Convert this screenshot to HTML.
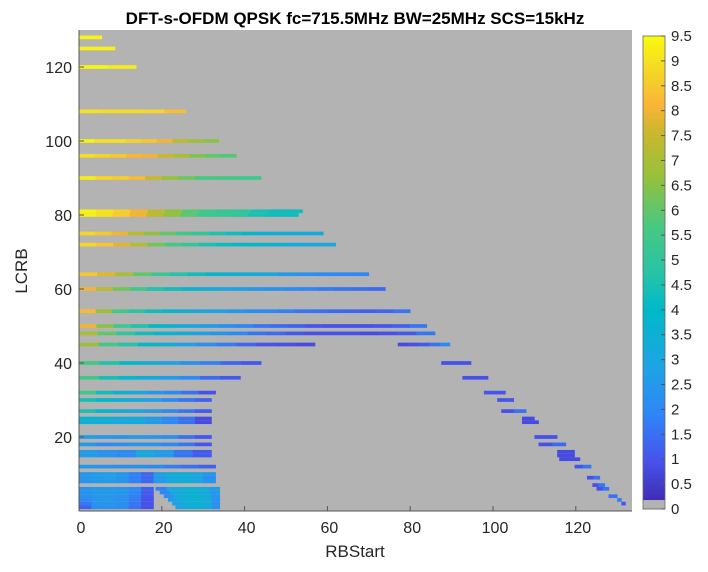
<!DOCTYPE html>
<html><head><meta charset="utf-8"><style>
body{margin:0;background:#fff;font-family:"Liberation Sans",sans-serif}
svg text{font-family:"Liberation Sans",sans-serif;fill:#262626}
</style></head><body>
<svg id="chart" width="708" height="567" xmlns="http://www.w3.org/2000/svg">
<text x="355" y="24" text-anchor="middle" font-size="17" font-weight="bold" style="fill:#000">DFT-s-OFDM QPSK fc=715.5MHz BW=25MHz SCS=15kHz</text>
<rect x="79" y="30" width="553" height="481" fill="#b3b3b3"/>
<g id="cells"></g>
<g id="axes"></g>
<text x="355" y="557" text-anchor="middle" font-size="17">RBStart</text>
<text transform="translate(27,271) rotate(-90)" text-anchor="middle" font-size="17">LCRB</text>
<g id="cbar"></g>
</svg>
<script>
const rowLCRB = [
128,125,120,108,100,96,90,81,80,75,
72,64,60,54,50,48,45,45,40,40,
36,36,32,32,30,30,27,27,25,24,
25,24,20,20,18,18,16,15,16,15,
14,12,12,10,9,8,9,7,6,6,
5,4,3,2,1,6,5,4,3,2,
1,4,3,2];
const rowStart = [
0,0,0,0,0,0,0,0,0,0,
0,0,0,0,0,0,0,77,0,87.5,
0,92.6,0,97.8,0,101,0,102,0,0,
107,107,0,110,0,111,0,0,115.5,115.5,
116,0,119.7,0,0,0,122.7,124,0,125,
0,0,0,0,0,18.5,19.5,20.5,21.5,22.5,
23.3,127.9,130,131];
const rowEnd = [
5.5,8.7,13.8,25.8,33.8,38,44,54,53,59,
62,70,74,80,84,86,57,89.6,44,94.7,
39,98.8,33,103,32,105,32,108,32,32,
110,111,32,115.5,32,117.6,32,32,119.7,119.7,
121,33,123.7,33,33,33,125.8,127,18,128,
18,18,18,18,18,34,34,34,34,34,
34,130,131,132];
const rowValues = [
[9.4],[9.3],[9.4,9.2],[9.0,8.9,8.9,8.8,8.3],
[9.3,9.0,9.0,8.7,8.5,8.0,7.3,6.8,6.5],
[8.9,8.7,8.5,8.1,8.0,7.5,7.0,6.4,6.0,5.8],
[9.2,8.8,8.6,8.2,7.5,6.7,6.2,5.7,5.6,5.5,5.4],
[9.3,9.0,8.6,8.0,7.3,6.6,5.9,5.4,5.2,5.0,4.5,4.3,4.3],
[9.3,9.0,8.6,8.0,7.3,6.6,5.9,5.4,5.2,5.0,4.5,4.3,4.3],
[8.8,8.5,8.0,7.3,6.6,6.0,5.4,5.1,4.6,4.3,4.0,3.6,3.4,3.3,3.2],
[8.8,8.4,7.8,7.2,6.2,5.6,5.1,4.5,4.2,4.0,3.8,3.5,3.3,3.2,3.0],
[8.5,7.8,7.0,6.0,5.3,4.7,4.3,3.9,3.6,3.3,3.0,2.6,2.3,2.1,2.0,1.9],
[8.0,7.3,6.2,5.4,4.6,4.3,3.8,3.4,3.0,2.8,2.5,2.3,2.1,1.9,1.7,1.6,1.5,1.4],
[8.2,6.8,5.6,4.8,4.3,3.8,3.3,2.9,2.7,2.4,2.2,2.0,1.8,1.6,1.5,1.4,1.3,1.2,1.3,1.6],
[8.0,6.5,5.4,4.6,4.0,3.5,3.0,2.6,2.2,1.9,1.6,1.4,1.2,1.0,0.9,0.9,0.9,1.0,1.2,1.6],
[7.0,6.0,5.0,4.3,3.8,3.3,2.8,2.4,2.0,1.6,1.4,1.1,0.9,0.9,0.9,0.8,0.9,1.1,1.6],
[6.8,5.5,4.7,4.0,3.3,2.7,2.2,1.7,1.3,1.0,0.9,0.8],
[0.8,0.9,1.1,1.5,1.9],
[5.6,4.6,4.0,3.4,2.8,2.3,1.8,1.3,1.0],
[0.9],
[5.5,4.4,3.8,3.2,2.6,2.0,1.4,1.1],
[0.9],
[5.4,4.3,3.6,3.1,2.5,2.0,1.5,0.9],
[1.0],
[4.4,4.0,3.5,3.1,2.7,2.1,1.6,1.2],
[1.0],
[4.5,3.8,3.3,3.0,2.6,2.0,1.6,1.1],
[0.9,1.5],
[3.6,3.4,3.1,3.2,2.6,2.0,1.5,0.8],
[3.6,3.4,3.1,3.2,2.6,2.0,1.5,0.8],
[0.8],
[0.8],
[2.7,2.5,2.3,2.6,2.4,2.1,1.5,1.0],
[0.9],
[2.6,2.0,2.2,2.4,2.3,2.0,1.6,1.0],
[0.9,1.4],
[2.6,2.3,2.0,3.0,2.6,1.6,1.1],
[2.6,2.3,2.0,3.0,2.6,1.6,1.1],
[0.8],
[0.8],
[0.8],
[2.5,2.3,2.2,2.2,2.0,1.7,1.5,1.2],
[1.0,1.6],
[2.4,2.6,2.7,2.4,1.8,1.3,2.6,3.2,3.4,3.0,2.4],
[2.4,2.6,2.7,2.4,1.8,1.3,2.6,3.2,3.4,3.0,2.2],
[2.3,2.5,2.6,2.4,1.8,1.3,2.6,3.2,3.4,3.0,2.3],
[0.9,1.5],
[0.9,1.6],
[2.3,2.5,2.5,2.4,2.0,1.2],
[0.9,1.6],
[2.3,2.5,2.5,2.4,1.9,1.1],
[2.2,2.5,2.5,2.3,1.8,1.0],
[2.0,2.4,2.4,2.2,1.7,0.9],
[1.6,2.3,2.4,2.2,1.6,0.9],
[1.2,2.2,2.3,2.1,1.5,0.9],
[1.8,3.0,3.4,3.5,3.3,2.6],
[1.9,3.1,3.4,3.5,3.3,2.5],
[2.2,3.2,3.5,3.6,3.3,2.4],
[2.6,3.3,3.5,3.6,3.2,2.3],
[2.8,3.3,3.5,3.5,3.1,2.2],
[2.8,3.3,3.4,3.5,3.1,2.2],
[1.5],
[1.7],
[1.0]
];
const xTicks = [0,20,40,60,80,100,120];
const yTicks = [20,40,60,80,100,120];
const cbTicks = ['0','0.5','1','1.5','2','2.5','3','3.5','4','4.5','5','5.5','6','6.5','7','7.5','8','8.5','9','9.5'];

const NS='http://www.w3.org/2000/svg';
const X = rb => 79 + rb*4.14;
const Y = L => 511 - L*3.7;
const CB = v => 509 - v*(473/9.5);
const stops=[[0,62,38,168],[0.1,71,82,236],[0.2,46,135,247],[0.3,30,164,228],[0.42,0,185,200],[0.5,40,196,165],[0.6,74,200,128],[0.7,150,193,60],[0.8,205,183,45],[0.85,250,180,55],[0.92,245,212,40],[1,249,251,14]];
function parula(v){let t=Math.max(0,Math.min(1,v/9.5));for(let i=1;i<stops.length;i++){if(t<=stops[i][0]){const a=stops[i-1],b=stops[i],f=(t-a[0])/(b[0]-a[0]);return 'rgb('+[1,2,3].map(k=>Math.round(a[k]+(b[k]-a[k])*f)).join(',')+')';}}return 'rgb(249,251,14)';}
function mk(tag,attrs,parent){const e=document.createElementNS(NS,tag);for(const k in attrs)e.setAttribute(k,attrs[k]);parent.appendChild(e);return e;}

const cells=document.getElementById('cells');
const nRows=Math.min(rowLCRB.length,rowStart.length,rowEnd.length,rowValues.length);
for(let i=0;i<nRows;i++){
  const L=rowLCRB[i], vals=rowValues[i], s=rowStart[i], e=rowEnd[i];
  const w=(e-s)/vals.length;
  vals.forEach((v,j)=>{
    const r=mk('rect',{x:X(s+j*w),y:Y(L)-1.85,width:w*4.14+0.3,height:3.7,fill:parula(v)},cells);
    
    
  });
}
const ax=document.getElementById('axes');
mk('line',{x1:79,y1:30,x2:79,y2:511,stroke:'#555','stroke-width':1},ax);
mk('line',{x1:79,y1:511,x2:632,y2:511,stroke:'#555','stroke-width':1},ax);
xTicks.forEach(t=>{
  mk('line',{x1:X(t),y1:511,x2:X(t),y2:506,stroke:'#555'},ax);
  const tx=mk('text',{x:X(t)+2,y:533,'text-anchor':'middle','font-size':'16'},ax);
  tx.textContent=t;
  
  
});
yTicks.forEach(t=>{
  mk('line',{x1:79,y1:Y(t),x2:84,y2:Y(t),stroke:'#555'},ax);
  const tx=mk('text',{x:72,y:Y(t)+6,'text-anchor':'end','font-size':'16'},ax);
  tx.textContent=t;
  
  
});
const cb=document.getElementById('cbar');
for(let k=0;k<200;k++){const v0=k*9.5/200,v1=(k+1)*9.5/200;
  mk('rect',{x:643,y:CB(v1),width:22,height:CB(v0)-CB(v1)+0.5,fill:v0<0.16?'#b3b3b3':parula(v0)},cb);}
mk('rect',{x:643,y:CB(9.5),width:22,height:473,fill:'none',stroke:'#666','stroke-width':0.8},cb);
cbTicks.forEach(t=>{const v=parseFloat(t);
  mk('line',{x1:661,y1:CB(v),x2:665,y2:CB(v),stroke:'#555'},cb);
  const tx=mk('text',{x:671,y:CB(v)+5,'font-size':'15'},cb);
  tx.textContent=t;
  
  
});
</script>
</body></html>
